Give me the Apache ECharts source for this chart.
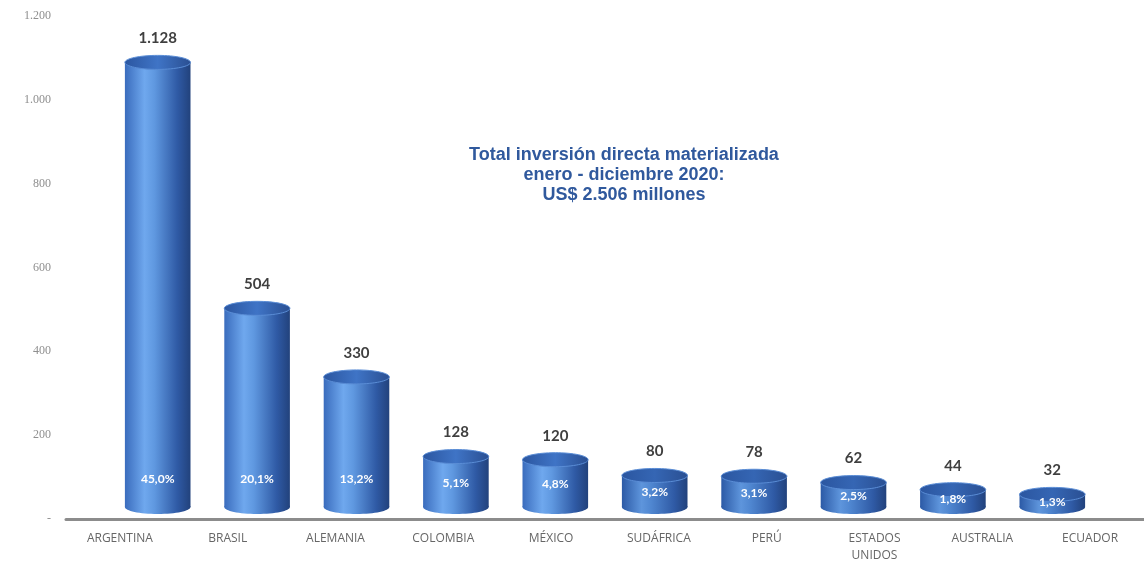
<!DOCTYPE html>
<html>
<head>
<meta charset="utf-8">
<script src="https://cdn.jsdelivr.net/npm/echarts@6/dist/echarts.min.js"></script>
<style>html,body{margin:0;padding:0;background:#fff}#c{width:1144px;height:564px}</style>
</head>
<body>
<div id="c"></div>
<script>
var categories = ['ARGENTINA','BRASIL','ALEMANIA','COLOMBIA','MÉXICO','SUDÁFRICA','PERÚ','ESTADOS\nUNIDOS','AUSTRALIA','ECUADOR'];
var values = [1128, 504, 330, 128, 120, 80, 78, 62, 44, 32];
var valueLabels = ['1.128','504','330','128','120','80','78','62','44','32'];
var shareLabels = ['45,0%','20,1%','13,2%','5,1%','4,8%','3,2%','3,1%','2,5%','1,8%','1,3%'];
var yTicks = [0, 200, 400, 600, 800, 1000, 1200];
var titleLines = ['Total inversión directa materializada', 'enero - diciembre 2020:', 'US$ 2.506 millones'];

function fmtThousands(v){
  if (v === 0) return '-';
  return String(v).replace(/\B(?=(\d{3})+(?!\d))/g, '.');
}

var chart = echarts.init(document.getElementById('c'));

function renderCyl(params, api){
  var i = api.value(0);
  var v = api.value(1);
  var top = api.coord([i, v]);
  var base = api.coord([i, 0]);
  var w = api.size([1, 0])[0] * 0.66;
  var cx = top[0];
  var x0 = cx - w / 2;
  var ry = 7;
  var topY = top[1];
  var baseY = base[1];
  var small = v < 100;
  var bodyGrad = new echarts.graphic.LinearGradient(0, 0, 1, 0, [
    {offset: 0, color: small ? '#2c5aa6' : '#3a6cbd'},
    {offset: 0.3, color: small ? '#5e95dc' : '#6fa8ee'},
    {offset: 0.45, color: small ? '#4f86d0' : '#5f98e0'},
    {offset: 0.8, color: '#2f5aa5'},
    {offset: 1, color: '#22427c'}
  ]);
  var topGrad = new echarts.graphic.LinearGradient(0, 0, 1, 0, [
    {offset: 0, color: '#2b56a0'},
    {offset: 0.5, color: small ? '#3566b4' : '#3f74c6'},
    {offset: 1, color: '#2a4f92'}
  ]);
  var mid = (topY + baseY) / 2;
  var pctY = Math.max(baseY - 28, mid + 1);
  return {
    type: 'group',
    children: [
      {type: 'ellipse', shape: {cx: cx, cy: baseY, rx: w / 2, ry: ry}, style: {fill: bodyGrad}},
      {type: 'rect', shape: {x: x0, y: topY, width: w, height: baseY - topY}, style: {fill: bodyGrad}},
      {type: 'ellipse', shape: {cx: cx, cy: topY, rx: w / 2, ry: ry}, style: {fill: topGrad, stroke: '#5a8dd6', lineWidth: 1}},
      {type: 'text', x: cx, y: topY - ry - 17, style: {text: valueLabels[i], fill: '#3f3f3f', font: 'bold 15px Lato, "Liberation Sans", sans-serif', align: 'center', verticalAlign: 'middle'}},
      {type: 'text', x: cx, y: pctY, style: {text: shareLabels[i], fill: '#ffffff', font: 'bold 12px Lato, "Liberation Sans", sans-serif', align: 'center', verticalAlign: 'middle'}}
    ]
  };
}

var option = {
  animation: false,
  backgroundColor: '#ffffff',
  grid: [
    {left: 66, right: 0, top: 16, bottom: 44},
    {left: 108, right: 42, top: 34, bottom: 57}
  ],
  xAxis: [
    {type: 'category', gridIndex: 0, data: categories,
     axisLine: {show: true, lineStyle: {color: '#8c8c8c', width: 3}}, axisTick: {show: false},
     axisLabel: {interval: 0, margin: 11, color: '#666666', fontSize: 12, fontFamily: '"Open Sans", sans-serif', lineHeight: 17}},
    {type: 'category', gridIndex: 1, data: categories, show: false}
  ],
  yAxis: [
    {type: 'value', gridIndex: 0, min: yTicks[0], max: yTicks[yTicks.length - 1], interval: 200,
     axisLine: {show: false}, axisTick: {show: false}, splitLine: {show: false},
     axisLabel: {margin: 15, color: '#8f8f8f', fontSize: 12, fontFamily: '"Liberation Serif", serif', formatter: fmtThousands}},
    {type: 'value', gridIndex: 1, min: 0, max: 1200, show: false}
  ],
  graphic: [
    {type: 'text', x: 624, y: 175, style: {text: titleLines.join('\n'), fill: '#30599d', font: 'bold 18px "Liberation Sans", Arial, sans-serif', align: 'center', verticalAlign: 'middle', lineHeight: 20}}
  ],
  series: [{
    type: 'custom',
    xAxisIndex: 1, yAxisIndex: 1,
    renderItem: renderCyl,
    data: values.map(function(v, i){ return [i, v]; })
  }]
};
chart.setOption(option);
</script>
</body>
</html>
